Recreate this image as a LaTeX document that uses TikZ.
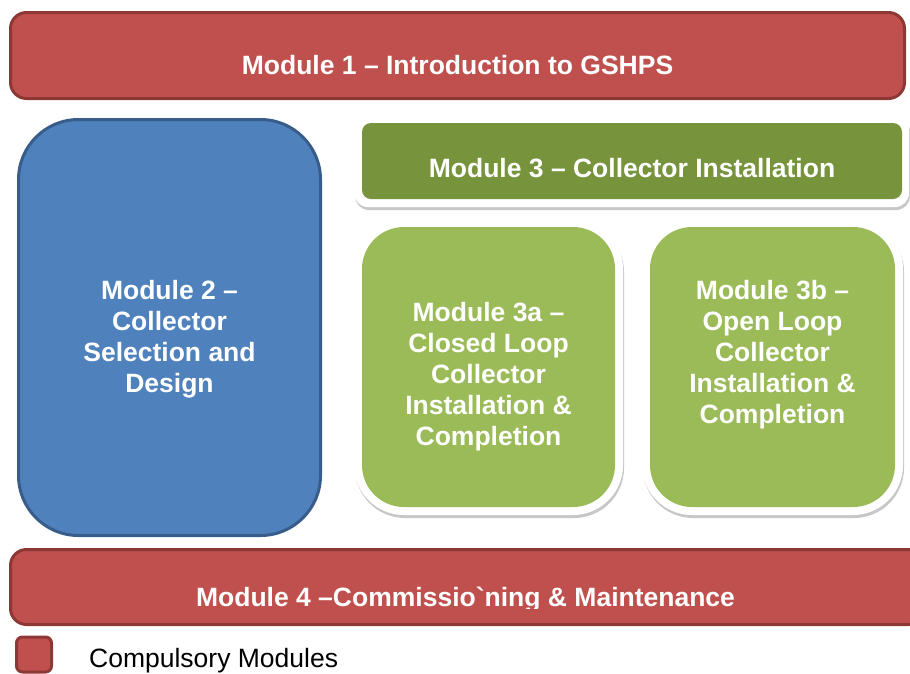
\documentclass[tikz,border=0pt]{standalone}
\usepackage{fontspec}
\setmainfont{Liberation Sans}
\usetikzlibrary{shadows,positioning}

\definecolor{modred}{HTML}{C0504D}
\definecolor{modredline}{HTML}{8E3836}
\definecolor{modblue}{HTML}{4F81BD}
\definecolor{modblueline}{HTML}{385D8A}
\definecolor{moddkgreen}{HTML}{77933C}
\definecolor{modltgreen}{HTML}{9BBB59}

\begin{document}
\begin{tikzpicture}[x=1pt, y=-1pt,
  every node/.style={font=\fontsize{26.5}{31}\selectfont\bfseries, text=white, align=center, inner sep=0pt},
  redbar/.style={draw=modredline, fill=modred, line width=3pt, rounded corners=16pt},
  bluebox/.style={draw=modblueline, fill=modblue, line width=3pt, rounded corners=60pt},
  whitebox/.style={fill=white, drop shadow={shadow xshift=1pt, shadow yshift=-3pt, opacity=0.22, fill=black}},
  greenbox/.style={fill=modltgreen, rounded corners=42pt},
  legtext/.style={font=\fontsize{26.5}{31}\selectfont, text=black}]
\useasboundingbox (0,0) rectangle (910,673);

% top and bottom bars
\node[redbar, minimum width=894pt, minimum height=86pt] (m1) at (457.5,55.5) {};
\node (m1t) at ([yshift=-9.5pt]m1.center) {Module 1 -- Introduction to GSHPS};

\node[redbar, minimum width=913pt, minimum height=75pt] (m4) at (467,587) {};
\begin{scope}
  \clip (0,540) rectangle (910,608);
  \node (m4t) at ([xshift=-1.5pt, yshift=-12.8pt]m4.center) {Module 4 --Commissio\textasciigrave ning \& Maintenance};
\end{scope}

% module 2
\node[bluebox, minimum width=302pt, minimum height=416pt] (m2) at (169.5,327.5) {};
\node (m2t) at ([yshift=-12pt]m2.center) {Module 2 --\\Collector\\Selection and\\Design};

% module 3 and its two parts
\node[whitebox, rounded corners=14pt, minimum width=555pt, minimum height=92pt] (m3w) at (631.5,161) {};
\node[fill=moddkgreen, rounded corners=9pt, minimum width=540pt, minimum height=76pt] (m3) at (632,161) {};
\node (m3t) at ([yshift=-7pt]m3.center) {Module 3 -- Collector Installation};

\node[whitebox, rounded corners=50pt, minimum width=269pt, minimum height=296pt] (m3aw) at (488.5,367) {};
\node[greenbox, minimum width=253pt, minimum height=280pt] (m3a) at (488.5,367) {};
\node (m3at) at ([yshift=-10pt]m3a.center) {Module 3a --\\Closed Loop\\Collector\\Installation \&\\Completion};

\node[whitebox, rounded corners=50pt, minimum width=261pt, minimum height=296pt] (m3bw) at (772.5,367) {};
\node[greenbox, minimum width=245pt, minimum height=280pt] (m3b) at (772.5,367) {};
\node (m3bt) at ([yshift=12.5pt]m3b.center) {Module 3b --\\Open Loop\\Collector\\Installation \&\\Completion};

% legend
\node[redbar, rounded corners=6pt, minimum width=35pt, minimum height=35pt] (leg) at (34,654.5) {};
\node[legtext, right=36pt of leg, yshift=-6pt] (legt) {Compulsory Modules};
\end{tikzpicture}
\end{document}
